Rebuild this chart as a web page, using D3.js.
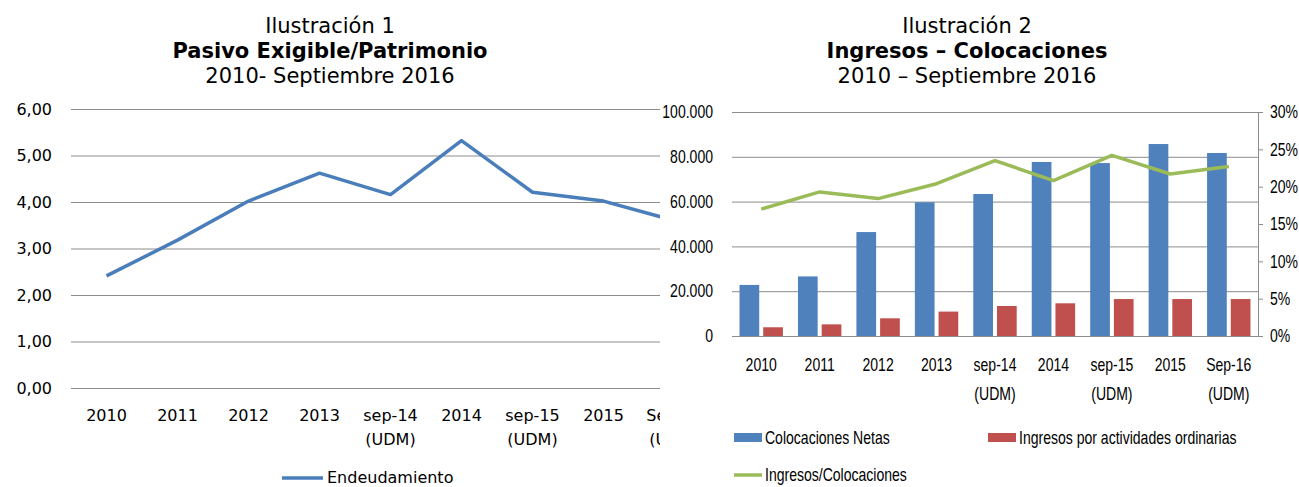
<!DOCTYPE html>
<html>
<head>
<meta charset="utf-8">
<script src="https://cdn.jsdelivr.net/npm/d3@7"></script>
<style>
    body { margin: 0; background: #fff; }
    svg { display: block; }
    .title { font-family: 'DejaVu Sans', Verdana, sans-serif; font-size: 21px; fill: #000; }
    .left-text { font-family: 'DejaVu Sans', Verdana, sans-serif; font-size: 16px; fill: #000; }
    .right-text { font-family: 'Liberation Sans', Arial, sans-serif; font-size: 18px; fill: #000; }
</style>
</head>
<body>
<svg id="vis-container"></svg>
<script>
const WIDTH = 1299
const HEIGHT = 487
const CONTAINER = d3.select('#vis-container')

// shared categories
const CATEGORIES = ['2010', '2011', '2012', '2013', 'sep-14\n(UDM)', '2014', 'sep-15\n(UDM)', '2015', 'Sep-16\n(UDM)']

// Ilustración 1
const TITLE_1 = ['Ilustración 1', 'Pasivo Exigible/Patrimonio', '2010- Septiembre 2016']
const ENDEUDAMIENTO = [2.41, 3.18, 4.02, 4.62, 4.16, 5.32, 4.21, 4.02, 3.60]
const LEFT_TICKS = [0, 1, 2, 3, 4, 5, 6]

// Ilustración 2
const TITLE_2 = ['Ilustración 2', 'Ingresos – Colocaciones', '2010 – Septiembre 2016']
const COLOCACIONES = [22800, 26600, 46400, 59700, 63400, 77700, 77200, 85700, 81700]
const INGRESOS = [3900, 5200, 7900, 10900, 13400, 14600, 16500, 16500, 16500]
const RATIO = [0.170, 0.193, 0.184, 0.204, 0.235, 0.208, 0.242, 0.217, 0.227]
const AMOUNT_TICKS = [0, 20000, 40000, 60000, 80000, 100000]
const PCT_TICKS = [0, 0.05, 0.10, 0.15, 0.20, 0.25, 0.30]

const BLUE = '#4f81bd'
const RED = '#c0504d'
const GREEN = '#9bbb59'
const GRID = '#8c8c8c'
// the right chart uses a narrow (Calibri-like) face: squeeze Liberation Sans horizontally
const SQUEEZE = 0.78

const esLocale = d3.formatLocale({ decimal: ',', thousands: '.', grouping: [3], currency: ['$', ''] })

CONTAINER.attr('width', WIDTH).attr('height', HEIGHT)

drawTitle(TITLE_1, 330)
drawTitle(TITLE_2, 967)
drawLeftChart()
drawRightChart()

function drawTitle(lines, cx) {
    const g = CONTAINER.append('g')
    lines.forEach((line, i) => {
        g.append('text')
            .attr('class', 'title')
            .attr('x', cx)
            .attr('y', 33 + i * 25)
            .attr('text-anchor', 'middle')
            .style('font-weight', i === 1 ? 'bold' : 'normal')
            .text(line)
    })
}

// scale a text (and its tspans) horizontally while keeping its anchor point
function narrow(texts) {
    texts.each(function () {
        const t = d3.select(this)
        t.attr('transform', `scale(${SQUEEZE},1)`)
        const nodes = t.selectAll('tspan').size() ? t.selectAll('tspan') : t
        nodes.each(function () {
            const n = d3.select(this)
            n.attr('x', +(n.attr('x') || 0) / SQUEEZE)
        })
    })
}

function drawCategoryLabels(g, x, y0, lineGap, cls) {
    const labels = g.append('g')
    CATEGORIES.forEach(cat => {
        const t = labels.append('text')
            .attr('class', cls)
            .attr('text-anchor', 'middle')
        cat.split('\n').forEach((part, i) => {
            t.append('tspan')
                .attr('x', x(cat) + x.bandwidth() / 2)
                .attr('y', y0 + i * lineGap)
                .text(part)
        })
    })
    return labels.selectAll('text')
}

function drawLeftChart() {
    CONTAINER.append('clipPath').attr('id', 'left-clip')
        .append('rect').attr('x', 0).attr('y', 0).attr('width', 660).attr('height', HEIGHT)

    const g = CONTAINER.append('g').attr('clip-path', 'url(#left-clip)')

    const x = d3.scaleBand().domain(CATEGORIES).range([71, 710])
    const y = d3.scaleLinear().domain([0, 6]).range([388, 109])

    const axis = g.append('g')
        .attr('transform', 'translate(71,0)')
        .call(d3.axisLeft(y)
            .tickValues(LEFT_TICKS)
            .tickSize(-639)
            .tickPadding(19)
            .tickFormat(esLocale.format('.2f')))
    axis.select('.domain').remove()
    axis.selectAll('.tick line').attr('stroke', GRID)
    axis.selectAll('.tick text').attr('class', 'left-text').attr('fill', '#000')
    axis.attr('font-family', null).attr('font-size', null)

    const line = d3.line()
        .x((d, i) => x(CATEGORIES[i]) + x.bandwidth() / 2)
        .y(d => y(d))

    g.append('path')
        .datum(ENDEUDAMIENTO)
        .attr('d', line)
        .attr('fill', 'none')
        .attr('stroke', '#4a7ebb')
        .attr('stroke-width', 3.5)
        .attr('stroke-linejoin', 'round')

    drawCategoryLabels(g, x, 421, 24, 'left-text')

    // legend
    const legend = g.append('g')
    legend.append('line')
        .attr('x1', 282).attr('x2', 323)
        .attr('y1', 478).attr('y2', 478)
        .attr('stroke', '#4a7ebb').attr('stroke-width', 3.5)
    legend.append('text')
        .attr('class', 'left-text')
        .attr('x', 327).attr('y', 483)
        .text('Endeudamiento')
}

function drawRightChart() {
    const g = CONTAINER.append('g')

    const x = d3.scaleBand().domain(CATEGORIES).range([732, 1258])
    const y = d3.scaleLinear().domain([0, 100000]).range([336, 112])
    const yPct = d3.scaleLinear().domain([0, 0.30]).range([336, 112])

    const axis = g.append('g')
        .attr('transform', 'translate(732,0)')
        .call(d3.axisLeft(y)
            .tickValues(AMOUNT_TICKS)
            .tickSize(-526)
            .tickPadding(19)
            .tickFormat(esLocale.format(',')))
    axis.select('.domain').remove()
    axis.selectAll('.tick line').attr('stroke', GRID)
    axis.selectAll('.tick text').attr('class', 'right-text').attr('fill', '#000').call(narrow)
    axis.attr('font-family', null).attr('font-size', null)

    const barW = 19.7
    const gap = 4
    const inset = (x.bandwidth() - 2 * barW - gap) / 2

    g.append('g').selectAll('rect')
        .data(COLOCACIONES)
        .join('rect')
        .attr('x', (d, i) => x(CATEGORIES[i]) + inset)
        .attr('y', d => y(d))
        .attr('width', barW)
        .attr('height', d => y(0) - y(d))
        .attr('fill', BLUE)

    g.append('g').selectAll('rect')
        .data(INGRESOS)
        .join('rect')
        .attr('x', (d, i) => x(CATEGORIES[i]) + inset + barW + gap)
        .attr('y', d => y(d))
        .attr('width', barW)
        .attr('height', d => y(0) - y(d))
        .attr('fill', RED)

    // right percent axis
    const pctAxis = g.append('g')
        .attr('transform', 'translate(1258,0)')
        .call(d3.axisRight(yPct)
            .tickValues(PCT_TICKS)
            .tickSize(5)
            .tickSizeOuter(0)
            .tickPadding(7)
            .tickFormat(d3.format('.0%')))
    pctAxis.select('.domain').attr('stroke', GRID)
    pctAxis.selectAll('.tick line').attr('stroke', GRID)
    pctAxis.selectAll('.tick text').attr('class', 'right-text').attr('fill', '#000').call(narrow)
    pctAxis.attr('font-family', null).attr('font-size', null)

    const line = d3.line()
        .x((d, i) => x(CATEGORIES[i]) + x.bandwidth() / 2)
        .y(d => yPct(d))

    g.append('path')
        .datum(RATIO)
        .attr('d', line)
        .attr('fill', 'none')
        .attr('stroke', GREEN)
        .attr('stroke-width', 3.5)
        .attr('stroke-linejoin', 'round')

    drawCategoryLabels(g, x, 371, 29, 'right-text').call(narrow)

    // legend
    const legend = g.append('g')
    legend.append('rect').attr('x', 734).attr('y', 433).attr('width', 28).attr('height', 9).attr('fill', BLUE)
    legend.append('rect').attr('x', 988).attr('y', 433).attr('width', 28).attr('height', 9).attr('fill', RED)
    legend.append('line')
        .attr('x1', 734).attr('x2', 762)
        .attr('y1', 475).attr('y2', 475)
        .attr('stroke', GREEN).attr('stroke-width', 3.5)
    legend.append('text').attr('class', 'right-text').attr('x', 765).attr('y', 444).text('Colocaciones Netas')
    legend.append('text').attr('class', 'right-text').attr('x', 1019).attr('y', 444).text('Ingresos por actividades ordinarias')
    legend.append('text').attr('class', 'right-text').attr('x', 765).attr('y', 481).text('Ingresos/Colocaciones')
    legend.selectAll('text').call(narrow)
}
</script>
</body>
</html>
